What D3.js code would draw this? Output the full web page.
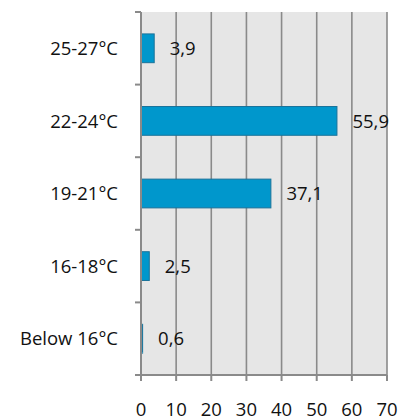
<!DOCTYPE html>
<html>
<head>
<meta charset="utf-8">
<script src="https://cdn.jsdelivr.net/npm/d3@7"></script>
<style>
  html, body { margin: 0; padding: 0; background: #ffffff; }
  svg { display: block; }
  text { font-family: "Open Sans", sans-serif; fill: #111; }
</style>
</head>
<body>
<svg id="chart" width="401" height="419"></svg>
<script>
const categories = ["25-27°C", "22-24°C", "19-21°C", "16-18°C", "Below 16°C"];
const values = [3.9, 55.9, 37.1, 2.5, 0.6];
const valueLabels = ["3,9", "55,9", "37,1", "2,5", "0,6"];
const xTicks = [0, 10, 20, 30, 40, 50, 60, 70];

const svg = d3.select("#chart");
const mLeft = 141, mRight = 387, mTop = 12, mBottom = 375;
const fs = 18.5;

const x = d3.scaleLinear().domain([0, 70]).range([mLeft, mRight]);
const y = d3.scaleBand().domain(categories).range([mTop, mBottom]).paddingInner(0.59).paddingOuter(0.295);
const yOuter = d3.scaleBand().domain(categories).range([mTop, mBottom]);

// background
svg.append("rect").attr("x", mLeft).attr("y", mTop)
  .attr("width", mRight - mLeft).attr("height", mBottom - mTop)
  .attr("fill", "#e6e6e6");

// gridlines
svg.append("g").selectAll("line").data(xTicks.slice(1)).join("line")
  .attr("x1", d => x(d)).attr("x2", d => x(d))
  .attr("y1", mTop).attr("y2", mBottom)
  .attr("stroke", "#8a8a8a").attr("stroke-width", 1.6);

// bars
svg.append("g").selectAll("rect").data(values).join("rect")
  .attr("x", x(0) + 0.5)
  .attr("y", (d, i) => y(categories[i]) + 0.5)
  .attr("width", d => Math.max(0, x(d) - x(0) - 1))
  .attr("height", y.bandwidth() - 1)
  .attr("fill", "#0097cc")
  .attr("stroke", "#1a739a").attr("stroke-width", 1);

// value labels
svg.append("g").selectAll("text").data(values).join("text")
  .attr("x", d => x(d) + 15)
  .attr("y", (d, i) => y(categories[i]) + y.bandwidth() / 2)
  .attr("dy", "0.36em")
  .attr("font-size", fs)
  .text((d, i) => valueLabels[i]);

// y axis
const yAxisG = svg.append("g");
yAxisG.append("line").attr("x1", mLeft).attr("x2", mLeft).attr("y1", mTop).attr("y2", mBottom + 6)
  .attr("stroke", "#8a8a8a").attr("stroke-width", 2);
const yTickPos = categories.map(c => yOuter(c)).concat([mBottom]);
yAxisG.selectAll("line.tk").data(yTickPos).join("line").attr("class", "tk")
  .attr("x1", mLeft - 6).attr("x2", mLeft).attr("y1", d => d).attr("y2", d => d)
  .attr("stroke", "#8a8a8a").attr("stroke-width", 2);
yAxisG.selectAll("text").data(categories).join("text")
  .attr("x", 118).attr("y", d => yOuter(d) + yOuter.bandwidth() / 2)
  .attr("dy", "0.36em").attr("text-anchor", "end").attr("font-size", fs)
  .text(d => d);

// x axis
const xAxisG = svg.append("g");
xAxisG.append("line").attr("x1", mLeft - 6).attr("x2", mRight).attr("y1", mBottom).attr("y2", mBottom)
  .attr("stroke", "#8a8a8a").attr("stroke-width", 2);
xAxisG.selectAll("line.tk").data(xTicks).join("line").attr("class", "tk")
  .attr("x1", d => x(d)).attr("x2", d => x(d)).attr("y1", mBottom).attr("y2", mBottom + 6)
  .attr("stroke", "#8a8a8a").attr("stroke-width", 2);
xAxisG.selectAll("text").data(xTicks).join("text")
  .attr("x", d => x(d)).attr("y", 409).attr("dy", "0.36em")
  .attr("text-anchor", "middle").attr("font-size", fs)
  .text(d => d);
</script>
</body>
</html>
